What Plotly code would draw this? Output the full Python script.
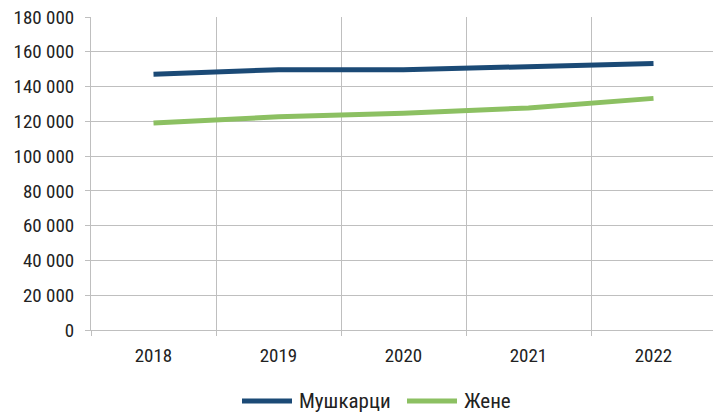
import plotly.graph_objects as go

years = ["2018", "2019", "2020", "2021", "2022"]
muskarci = [147100, 149700, 149600, 151500, 153300]
zene = [119000, 122600, 124600, 127700, 133200]
y_ticks = [0, 20000, 40000, 60000, 80000, 100000, 120000, 140000, 160000, 180000]
series_names = ["Мушкарци", "Жене"]
series_colors = ["#1B4A76", "#8CC062"]

FONT = "Liberation Sans Narrow, Arial Narrow, Roboto Condensed, Roboto, sans-serif"

fig = go.Figure()
for name, vals, col in zip(series_names, [muskarci, zene], series_colors):
    fig.add_trace(go.Scatter(x=years, y=vals, mode="lines", name=name,
                             line=dict(color=col, width=5), showlegend=False))

# Manual legend (swatch + label) below the plot, in paper coordinates
L, W, B, H = 91, 622, 330, 313
def px(x):
    return (x - L) / W
def py(y):
    return (B - y) / H

legend_items = [(242, 292, 297), (407, 457, 462)]
for (x0, x1, xt), name, col in zip(legend_items, series_names, series_colors):
    fig.add_shape(type="line", xref="paper", yref="paper",
                  x0=px(x0), x1=px(x1), y0=py(401), y1=py(401),
                  line=dict(color=col, width=5))
    fig.add_annotation(xref="paper", yref="paper", x=px(xt), y=py(401),
                       xanchor="left", yanchor="middle", showarrow=False,
                       text=name, font=dict(family=FONT, size=21, color="#222222"))

fig.update_layout(
    width=713, height=412,
    margin=dict(l=91, r=0, t=17, b=82, autoexpand=False),
    paper_bgcolor="white", plot_bgcolor="white",
    separators=". ",
    font=dict(family=FONT, size=19, color="#222222"),
    showlegend=False,
)
fig.update_xaxes(type="category", range=[-0.5, 4.476], tickson="boundaries",
                 automargin=False,
                 showgrid=True, gridcolor="#BFBFBF", gridwidth=1,
                 showline=True, linecolor="#BFBFBF", linewidth=1,
                 ticks="outside", ticklen=5, tickcolor="#BFBFBF",
                 ticklabelstandoff=8)
fig.update_yaxes(range=[0, 180000], tickvals=y_ticks, tickformat=",d",
                 automargin=False,
                 showgrid=True, gridcolor="#BFBFBF", gridwidth=1,
                 showline=True, linecolor="#BFBFBF", linewidth=1,
                 ticks="outside", ticklen=5, tickcolor="#BFBFBF", zeroline=False,
                 ticklabelstandoff=7)

fig.write_html("out.html", config={"displayModeBar": False},
               post_script="document.body.style.margin='0';document.body.style.overflow='hidden';")
